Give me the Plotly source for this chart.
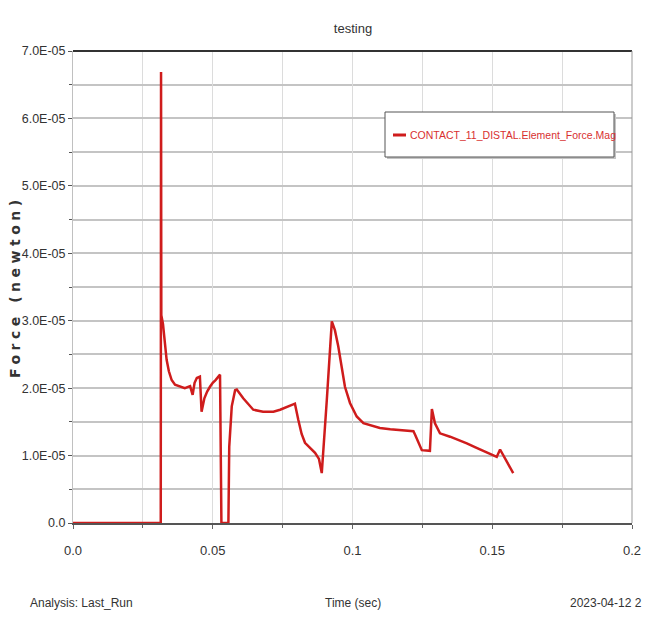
import plotly.graph_objects as go

# ---- data ----
time_sec = [0.0, 0.0314, 0.0315, 0.0316, 0.0322, 0.0328, 0.0335, 0.0343, 0.0353, 0.0365,
            0.0383, 0.0400, 0.0419, 0.0428, 0.0435, 0.0443, 0.0454, 0.0460, 0.0470, 0.0480,
            0.0490, 0.0500, 0.0510, 0.0526, 0.0531, 0.0556, 0.0559, 0.0568, 0.0580, 0.0586,
            0.0609, 0.0645, 0.0680, 0.0717, 0.0741, 0.0765, 0.0794, 0.0806, 0.0818, 0.0830,
            0.0850, 0.0866, 0.0880, 0.0890, 0.0908, 0.0926, 0.0937, 0.0949, 0.0961, 0.0973,
            0.0991, 0.1015, 0.1039, 0.1070, 0.1098, 0.1135, 0.1170, 0.1218, 0.1224, 0.1236,
            0.1248, 0.1277, 0.1284, 0.1295, 0.1313, 0.1349, 0.1380, 0.1409, 0.1440, 0.1468,
            0.1495, 0.1516, 0.1528, 0.1550, 0.1575]
force_e5 = [0.0, 0.0, 6.69, 3.08, 2.95, 2.65, 2.42, 2.25, 2.12, 2.05,
            2.02, 2.00, 2.03, 1.90, 2.08, 2.15, 2.17, 1.65, 1.85, 1.95,
            2.02, 2.08, 2.12, 2.20, 0.0, 0.0, 1.13, 1.73, 1.97, 1.98,
            1.85, 1.68, 1.65, 1.65, 1.68, 1.72, 1.77, 1.53, 1.32, 1.19,
            1.10, 1.04, 0.95, 0.74, 1.82, 2.99, 2.86, 2.62, 2.32, 2.02,
            1.78, 1.58, 1.48, 1.44, 1.41, 1.39, 1.38, 1.36, 1.31, 1.18,
            1.08, 1.07, 1.69, 1.48, 1.33, 1.28, 1.23, 1.18, 1.12, 1.07,
            1.02, 0.98, 1.09, 0.93, 0.74]
force_newton = [v * 1e-5 for v in force_e5]

y_tick_vals = [0, 1e-5, 2e-5, 3e-5, 4e-5, 5e-5, 6e-5, 7e-5]
y_tick_text = ["0.0", "1.0E-05", "2.0E-05", "3.0E-05", "4.0E-05", "5.0E-05", "6.0E-05", "7.0E-05"]
x_tick_vals = [0, 0.05, 0.1, 0.15, 0.2]
x_tick_text = ["0.0", "0.05", "0.1", "0.15", "0.2"]

series_name = "CONTACT_11_DISTAL.Element_Force.Mag"
line_red = "#cf1c1c"
sans = "Liberation Sans, Arial, sans-serif"

W, H = 645, 617
L, R, T, B = 73, 13, 51, 94
PW, PH = W - L - R, H - T - B


def px(xp):
    return (xp - L) / PW


def py(yp):
    return (H - B - yp) / PH


fig = go.Figure()
fig.add_trace(go.Scatter(x=time_sec, y=force_newton, mode="lines", name=series_name,
                         line=dict(color=line_red, width=2.5), showlegend=False))

fig.update_layout(
    width=W, height=H,
    margin=dict(l=L, r=R, t=T, b=B),
    paper_bgcolor="white", plot_bgcolor="white",
    title=dict(text="testing", x=353 / W, xanchor="center", y=1 - 28 / H, yanchor="middle",
               font=dict(family=sans, size=13, color="#333333")),
    font=dict(family=sans, size=13, color="#333333"),
)

fig.update_xaxes(
    range=[0, 0.2], tickvals=x_tick_vals, ticktext=x_tick_text,
    showgrid=True, gridcolor="#dcdcdc", gridwidth=1,
    minor=dict(dtick=0.025, tick0=0, showgrid=True, gridcolor="#dcdcdc", gridwidth=1,
               ticks="outside", ticklen=3, tickcolor="#666666"),
    ticks="outside", ticklen=4, tickcolor="#666666",
    showline=True, linecolor="#555555", linewidth=2,
    zeroline=False, layer="below traces", ticklabelstandoff=10, automargin=False,
    tickfont=dict(family=sans, size=13, color="#333333"),
)
fig.update_yaxes(
    range=[0, 7e-5], tickvals=y_tick_vals, ticktext=y_tick_text,
    showgrid=True, gridcolor="#c4c4c4", gridwidth=2,
    minor=dict(dtick=0.5e-5, tick0=0, showgrid=True, gridcolor="#c4c4c4", gridwidth=2,
               ticks="outside", ticklen=3, tickcolor="#555555"),
    ticks="outside", ticklen=4, tickcolor="#555555",
    showline=True, linecolor="#c0c0c0", linewidth=1,
    zeroline=False, layer="below traces", automargin=False,
    tickfont=dict(family=sans, size=12.5, color="#333333"),
)

# frame: dark top border, thin right border
fig.add_shape(type="line", xref="x domain", yref="y domain", x0=0, x1=1, y0=1, y1=1,
              line=dict(color="#333333", width=2))
fig.add_shape(type="line", xref="x domain", yref="y domain", x0=1, x1=1, y0=0, y1=1,
              line=dict(color="#999999", width=1))

# legend box: shadow, box, line sample, label
fig.add_shape(type="rect", xref="paper", yref="paper",
              x0=px(387), x1=px(616), y0=py(159), y1=py(114),
              line=dict(width=0), fillcolor="#c4c4c4", layer="above")
fig.add_shape(type="rect", xref="paper", yref="paper",
              x0=px(385), x1=px(614), y0=py(157), y1=py(112),
              line=dict(width=1, color="#555555"), fillcolor="white", layer="above")
fig.add_shape(type="line", xref="paper", yref="paper",
              x0=px(393), x1=px(406), y0=py(135), y1=py(135),
              line=dict(width=3, color=line_red), layer="above")
fig.add_annotation(xref="paper", yref="paper", x=px(408), y=py(135),
                   xanchor="left", yanchor="middle", showarrow=False,
                   text=series_name,
                   font=dict(family=sans, size=10.5, color="#d83030"))

# axis titles and footer
fig.add_annotation(xref="paper", yref="paper", x=px(15), y=0.5, textangle=-90,
                   xanchor="center", yanchor="middle", showarrow=False,
                   text="<span style='letter-spacing:4.5px'><b>Force (newton)</b></span>",
                   font=dict(family="DejaVu Sans, sans-serif", size=14, color="#333333"))
fig.add_annotation(xref="paper", yref="paper", x=px(353), y=py(603),
                   xanchor="center", yanchor="middle", showarrow=False,
                   text="Time (sec)", font=dict(family=sans, size=12, color="#333333"))
fig.add_annotation(xref="paper", yref="paper", x=px(28), y=py(603),
                   xanchor="left", yanchor="middle", showarrow=False,
                   text="Analysis: Last_Run", font=dict(family=sans, size=12, color="#333333"))
fig.add_annotation(xref="paper", yref="paper", x=px(644), y=py(603),
                   xanchor="right", yanchor="middle", showarrow=False,
                   text="2023-04-12 2", font=dict(family=sans, size=12, color="#333333"))

fig.write_html("out.html", config={"displayModeBar": False},
               post_script="document.body.style.margin='0';document.body.style.overflow='hidden';")
